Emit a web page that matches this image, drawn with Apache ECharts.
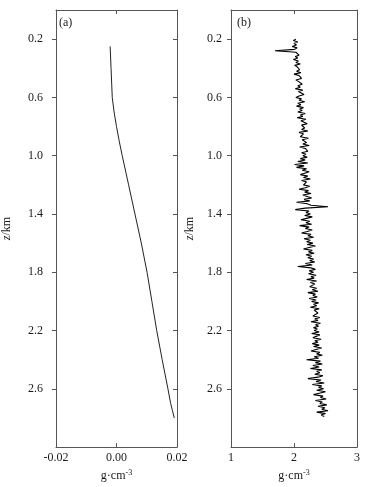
<!DOCTYPE html>
<html><head><meta charset="utf-8">
<script src="https://cdn.jsdelivr.net/npm/echarts@6/dist/echarts.min.js"></script>
<style>html,body{margin:0;padding:0;background:#fff}#c{width:373px;height:487px}</style>
</head><body><div id="c"></div>
<script>
// Panel (a): smooth profile, [depth km, value g·cm^-3]
const depthA = [0.25, 0.40, 0.60, 0.70, 0.80, 0.90, 1.00, 1.20, 1.40, 1.60, 1.80, 2.00, 2.20, 2.40, 2.60, 2.70, 2.75, 2.80];
const valueA = [-0.0021, -0.0018, -0.0014, -0.0008, 0.0000, 0.0009, 0.0019, 0.0040, 0.0061, 0.0082, 0.0101, 0.0117, 0.0133, 0.0151, 0.0170, 0.0179, 0.0185, 0.0191];
// Panel (b): density log sampled every 0.01 km from 0.20 km
const depthStartB = 0.20;
const depthStepB = 0.01;
const valueB = [
2.03,1.99,2.06,2.00,2.04,1.97,2.05,2.01,1.70,2.03,
2.00,2.08,2.02,2.06,1.99,2.07,2.03,2.10,2.01,2.05,
2.02,2.09,2.04,2.11,2.00,2.08,2.05,2.12,2.03,2.07,
2.04,2.13,2.06,2.10,2.02,2.14,2.07,2.05,2.16,2.08,
2.03,2.12,2.08,2.17,2.06,2.11,2.04,2.15,2.09,2.13,
2.06,2.18,2.10,2.14,2.05,2.19,2.11,2.08,2.21,2.12,
2.09,2.17,2.12,2.22,2.08,2.15,2.18,2.10,2.23,2.13,
2.11,2.20,2.14,2.24,2.09,2.18,2.15,2.22,2.12,2.19,
2.14,2.21,2.10,2.18,2.06,2.22,2.01,2.16,2.04,2.20,
2.13,2.24,2.17,2.10,2.22,2.15,2.26,2.12,2.20,2.18,
2.15,2.25,2.18,2.08,2.23,2.17,2.27,2.14,2.21,2.28,
2.16,2.25,2.04,2.21,2.27,2.54,2.18,2.02,2.24,2.19,
2.26,2.17,2.29,2.20,2.11,2.25,2.19,2.28,2.09,2.24,
2.18,2.29,2.21,2.12,2.27,2.22,2.31,2.16,2.26,2.20,
2.30,2.21,2.34,2.24,2.15,2.29,2.23,2.32,2.19,2.28,
2.22,2.31,2.25,2.33,2.18,2.29,2.06,2.27,2.34,2.24,
2.31,2.23,2.35,2.27,2.32,2.20,2.36,2.26,2.33,2.29,
2.25,2.36,2.29,2.38,2.22,2.34,2.30,2.37,2.24,2.35,
2.28,2.39,2.31,2.36,2.26,2.40,2.32,2.29,2.38,2.34,
2.30,2.41,2.33,2.38,2.27,2.42,2.34,2.39,2.31,2.37,
2.32,2.40,2.28,2.41,2.35,2.30,2.43,2.33,2.38,2.29,
2.40,2.31,2.44,2.35,2.27,2.41,2.36,2.45,2.32,2.39,
2.20,2.42,2.34,2.45,2.30,2.40,2.26,2.44,2.36,2.41,
2.33,2.46,2.38,2.22,2.43,2.35,2.48,2.29,2.44,2.39,
2.47,2.36,2.50,2.40,2.31,2.46,2.42,2.51,2.34,2.45,
2.41,2.52,2.38,2.49,2.44,2.54,2.36,2.50,2.43,2.48
];
const yTicks = [0.2, 0.6, 1.0, 1.4, 1.8, 2.2, 2.6];
const xTicksA = [-0.02, 0.00, 0.02];
const xTicksB = [1, 2, 3];

const FONT = '"Liberation Serif", "DejaVu Serif", serif';
const AX = '#555';
const TXT = '#1a1a1a';
const chart = echarts.init(document.getElementById('c'), null, {renderer: 'canvas'});

const grids = [
  {left: 51, top: 10, width: 126, height: 440},
  {left: 231, top: 10, width: 126, height: 440}
];

function yAxes(gi, nameGap, margin) {
  return [{
    type: 'value', gridIndex: gi, inverse: true, min: 0, max: 3, position: 'left',
    name: '{i|z}/km', nameLocation: 'middle', nameGap: nameGap,
    nameTextStyle: {fontFamily: FONT, fontSize: 12, color: TXT, rich: {i: {fontStyle: 'italic', fontFamily: FONT, fontSize: 12, color: TXT}}},
    axisLine: {show: true, onZero: false, lineStyle: {color: AX, width: 1}},
    axisTick: {show: true, inside: false, length: 4, customValues: yTicks, lineStyle: {color: AX}},
    axisLabel: {show: true, customValues: yTicks, margin: margin, fontFamily: FONT, fontSize: 12, color: TXT, formatter: v => v.toFixed(1)},
    splitLine: {show: false}
  }, {
    type: 'value', gridIndex: gi, inverse: true, min: 0, max: 3, position: 'right',
    axisLine: {show: true, onZero: false, lineStyle: {color: AX, width: 1}},
    axisTick: {show: true, inside: true, length: 4, customValues: yTicks, lineStyle: {color: AX}},
    axisLabel: {show: false}, splitLine: {show: false}
  }];
}
function xAxes(gi, mn, mx, ticks, dec) {
  return [{
    type: 'value', gridIndex: gi, min: mn, max: mx, position: 'bottom',
    name: '{b|g·cm}{s|-3}', nameLocation: 'middle', nameGap: 17,
    nameTextStyle: {fontFamily: FONT, fontSize: 12, color: TXT, rich: {b: {fontFamily: FONT, fontSize: 12, color: TXT}, s: {fontFamily: FONT, fontSize: 8, color: TXT, verticalAlign: 'top', padding: [0, 0, 6, 0]}}},
    axisLine: {show: true, onZero: false, lineStyle: {color: AX, width: 1}},
    axisTick: {show: true, inside: true, length: 4, customValues: ticks, lineStyle: {color: AX}},
    axisLabel: {show: true, customValues: ticks, margin: 5, fontFamily: FONT, fontSize: 12, color: TXT, formatter: v => v.toFixed(dec), hideOverlap: false},
    splitLine: {show: false}
  }, {
    type: 'value', gridIndex: gi, min: mn, max: mx, position: 'top',
    axisLine: {show: true, onZero: false, lineStyle: {color: AX, width: 1}},
    axisTick: {show: true, inside: true, length: 4, customValues: ticks, lineStyle: {color: AX}},
    axisLabel: {show: false}, splitLine: {show: false}
  }];
}

const dataA = depthA.map((z, i) => [valueA[i], z]);
const dataB = valueB.map((v, i) => [v, +(depthStartB + depthStepB * i).toFixed(2)]);

chart.setOption({
  animation: false,
  backgroundColor: '#fff',
  grid: grids,
  xAxis: [...xAxes(0, -0.02, 0.02, xTicksA, 2), ...xAxes(1, 1, 3, xTicksB, 0)],
  yAxis: [...yAxes(0, 43, 13), ...yAxes(1, 35, 9)],
  series: [
    {type: 'line', xAxisIndex: 0, yAxisIndex: 0, data: dataA, smooth: false, showSymbol: false, lineStyle: {color: '#222', width: 1}},
    {type: 'line', xAxisIndex: 2, yAxisIndex: 2, data: dataB, showSymbol: false, lineStyle: {color: '#000', width: 1.1}}
  ],
  graphic: [
    {type: 'text', left: 59, top: 17, style: {text: '(a)', fontFamily: FONT, fontSize: 12, fill: TXT}},
    {type: 'text', left: 237, top: 17, style: {text: '(b)', fontFamily: FONT, fontSize: 12, fill: TXT}}
  ]
});
</script></body></html>
